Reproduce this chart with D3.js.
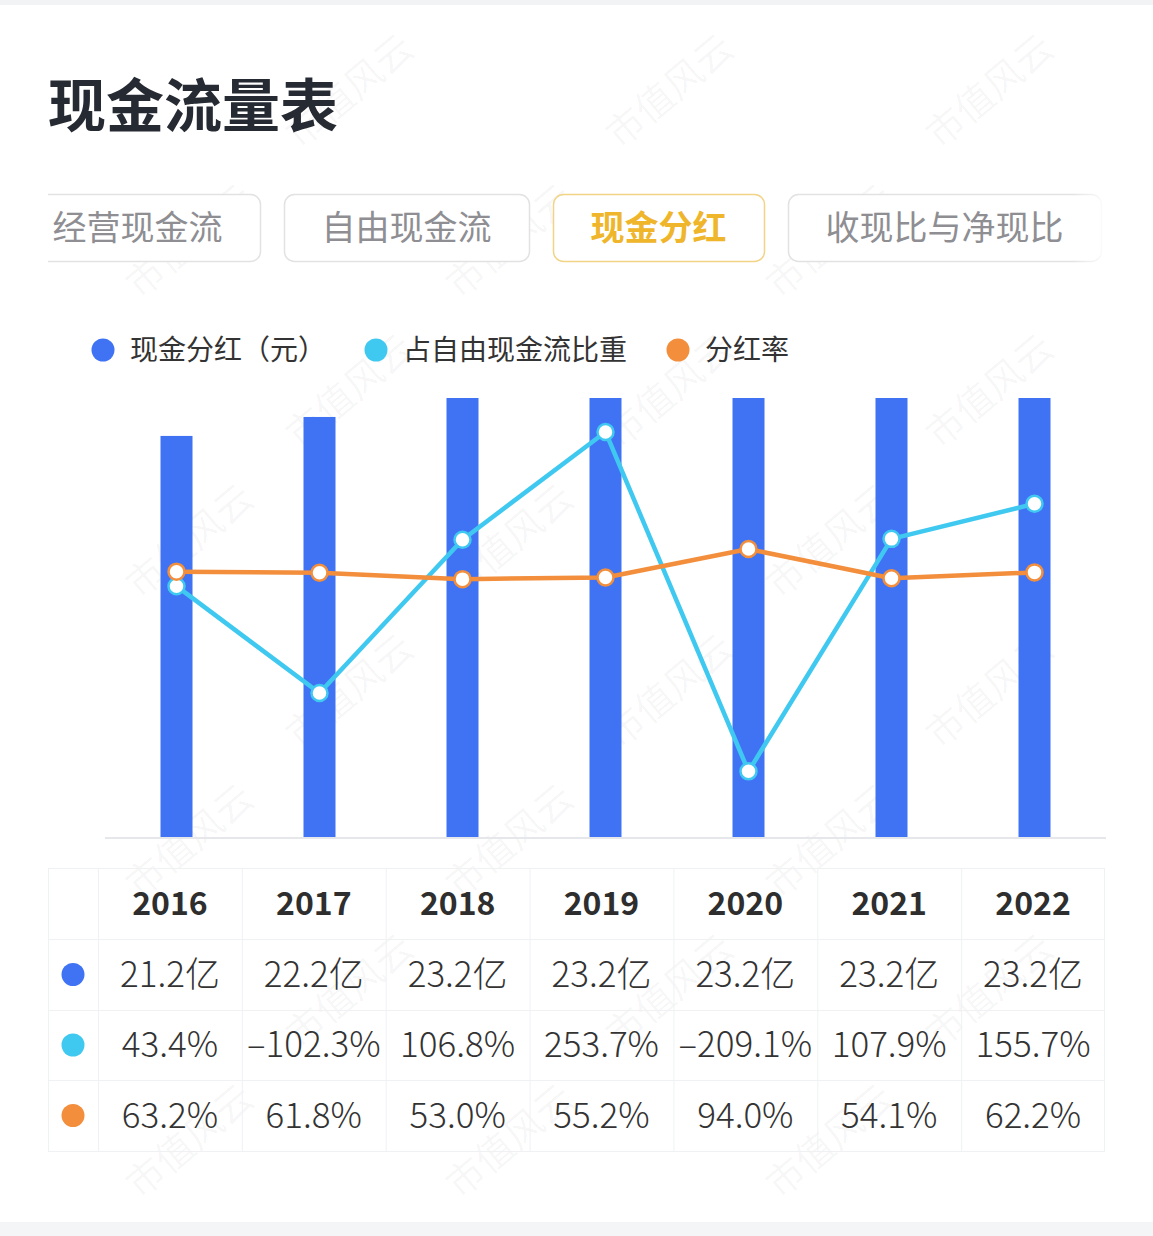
<!DOCTYPE html>
<html>
<head>
<meta charset="utf-8">
<script src="https://cdn.jsdelivr.net/npm/d3@7/dist/d3.min.js"></script>
<style>
  html, body { margin: 0; padding: 0; background: #fff; }
  svg { display: block; font-family: "Noto Sans CJK SC", "Noto Sans", sans-serif; }
</style>
</head>
<body>
<div id="chart"></div>
<script>
// chart data
var years = ["2016", "2017", "2018", "2019", "2020", "2021", "2022"];
var dividend = [21.2, 22.2, 23.2, 23.2, 23.2, 23.2, 23.2];          // 亿元
var fcfShare = [43.4, -102.3, 106.8, 253.7, -209.1, 107.9, 155.7];  // %
var payoutRate = [63.2, 61.8, 53.0, 55.2, 94.0, 54.1, 62.2];        // %
var tabs = ["经营现金流", "自由现金流", "现金分红", "收现比与净现比"];
var activeTab = "现金分红";
var seriesNames = ["现金分红（元）", "占自由现金流比重", "分红率"];
var rateTicks = [-300, 300];

var W = 1153, H = 1236;
var colors = ["#3f73f4", "#40c9f0", "#f28e3c"];

var svg = d3.select("#chart").append("svg")
  .attr("width", W)
  .attr("height", H);

// background strips
svg.append("rect").attr("x", 0).attr("y", 0).attr("width", W).attr("height", 5).attr("fill", "#f2f3f5");
svg.append("rect").attr("x", 0).attr("y", 1222).attr("width", W).attr("height", 14).attr("fill", "#f4f5f7");

// watermark, only the copies that fit inside the page
var wm = svg.append("g").attr("fill", "#000").attr("fill-opacity", 0.04)
  .attr("font-size", 38);
for (var r = 0; r < 9; r++) {
  for (var c = 0; c < 5; c++) {
    var wx = c * 320 + (r % 2 ? 160 : 0) - 20;
    var wy = r * 150 + 150;
    var t = wm.append("text")
      .attr("transform", "translate(" + wx + "," + wy + ") rotate(-40)")
      .text("市值风云");
    var b = t.node().getBoundingClientRect();
    if (b.left < 2 || b.top < 8 || b.right > W - 2 || b.bottom > 1218) t.remove();
  }
}

// title
svg.append("text")
  .attr("x", 48).attr("y", 127)
  .attr("font-size", 58).attr("font-weight", 700)
  .attr("fill", "#262a33")
  .text("现金流量表");

// tabs (scroll strip, clipped, right end fades out)
var defs = svg.append("defs");
defs.append("clipPath").attr("id", "tabclip")
  .append("rect").attr("x", 48).attr("y", 180).attr("width", 1057).attr("height", 100);
var fade = defs.append("linearGradient").attr("id", "tabfade");
fade.append("stop").attr("offset", "0%").attr("stop-color", "#fff").attr("stop-opacity", 0);
fade.append("stop").attr("offset", "100%").attr("stop-color", "#fff").attr("stop-opacity", 1);

var tabG = svg.append("g").attr("clip-path", "url(#tabclip)");
var tabX = 15;
tabs.forEach(function(t) {
  var w = t.length * 34 + 75;
  var on = t === activeTab;
  tabG.append("rect")
    .attr("x", tabX + 0.5).attr("y", 194.5)
    .attr("width", w).attr("height", 67)
    .attr("rx", 10)
    .attr("fill", "#fff")
    .attr("stroke", on ? "#f1d486" : "#e2e2e2")
    .attr("stroke-width", 1.5);
  tabG.append("text")
    .attr("x", tabX + w / 2).attr("y", 240)
    .attr("text-anchor", "middle")
    .attr("font-size", 34)
    .attr("font-weight", on ? 600 : 400)
    .attr("fill", on ? "#efb52b" : "#8e8e93")
    .text(t);
  tabX += w + 24;
});
svg.append("rect")
  .attr("x", 1072).attr("y", 190).attr("width", 36).attr("height", 76)
  .attr("fill", "url(#tabfade)");

// legend
var legendX = [103, 376, 678];
seriesNames.forEach(function(name, i) {
  svg.append("circle")
    .attr("cx", legendX[i]).attr("cy", 350).attr("r", 11.5)
    .attr("fill", colors[i]);
  svg.append("text")
    .attr("x", legendX[i] + 27).attr("y", 360)
    .attr("font-size", 28)
    .attr("fill", "#333")
    .text(name);
});

// scales
var x = d3.scalePoint().domain(years).range([105, 1106]).padding(0.5);
var yBar = d3.scaleLinear().domain([0, d3.max(dividend)]).range([838, 398]);
var yRate = d3.scaleLinear().domain(rateTicks).range([838, 398]);
var barW = 32;

// bars
svg.append("g").selectAll("rect")
  .data(dividend)
  .enter().append("rect")
    .attr("x", (d, i) => x(years[i]) - barW / 2)
    .attr("y", d => yBar(d))
    .attr("width", barW)
    .attr("height", d => yBar(0) - yBar(d))
    .attr("fill", colors[0]);

// baseline
svg.append("g")
  .attr("transform", "translate(0,838)")
  .call(d3.axisBottom(x).tickSize(0).tickFormat(""))
  .call(g => g.select(".domain").attr("stroke", "#e6e7ea").attr("stroke-width", 2)
    .attr("d", "M105,0H1106"));

// lines
var line = d3.line()
  .x((d, i) => x(years[i]))
  .y(d => yRate(d));

[[fcfShare, colors[1]], [payoutRate, colors[2]]].forEach(function(s) {
  svg.append("path")
    .datum(s[0])
    .attr("d", line)
    .attr("fill", "none")
    .attr("stroke", s[1])
    .attr("stroke-width", 4.5)
    .attr("stroke-linejoin", "round");
  svg.append("g").selectAll("circle")
    .data(s[0])
    .enter().append("circle")
      .attr("cx", (d, i) => x(years[i]))
      .attr("cy", d => yRate(d))
      .attr("r", 8)
      .attr("fill", "#fff")
      .attr("stroke", s[1])
      .attr("stroke-width", 2.5);
});

// table
var tx = d3.scaleBand().domain(years).range([98, 1105]);
var rowY = [868, 939, 1010, 1080, 1151];
var table = svg.append("g");
var lineColor = "#f0f1f3";

table.append("rect")
  .attr("x", 48.5).attr("y", rowY[0] + 0.5)
  .attr("width", 1056).attr("height", rowY[4] - rowY[0])
  .attr("fill", "none").attr("stroke", lineColor);

rowY.slice(1, 4).forEach(function(yy) {
  table.append("line")
    .attr("x1", 48).attr("x2", 1105)
    .attr("y1", yy + 0.5).attr("y2", yy + 0.5)
    .attr("stroke", lineColor);
});
[98].concat(years.slice(1).map(y => tx(y))).forEach(function(xx) {
  table.append("line")
    .attr("x1", xx + 0.5).attr("x2", xx + 0.5)
    .attr("y1", rowY[0]).attr("y2", rowY[4])
    .attr("stroke", lineColor);
});

var fmtPct = function(v) { return (v < 0 ? "–" + Math.abs(v).toFixed(1) : v.toFixed(1)) + "%"; };
var rows = [
  dividend.map(v => v.toFixed(1) + "亿"),
  fcfShare.map(fmtPct),
  payoutRate.map(fmtPct)
];

table.selectAll(".head")
  .data(years)
  .enter().append("text")
    .attr("class", "head")
    .attr("x", d => tx(d) + tx.bandwidth() / 2)
    .attr("y", (rowY[0] + rowY[1]) / 2 + 11)
    .attr("text-anchor", "middle")
    .attr("font-size", 32).attr("font-weight", 600)
    .attr("fill", "#2e2e2e")
    .text(d => d);

rows.forEach(function(vals, r) {
  var cy = (rowY[r + 1] + rowY[r + 2]) / 2;
  table.append("circle")
    .attr("cx", 73).attr("cy", cy).attr("r", 11.5)
    .attr("fill", colors[r]);
  table.selectAll(".row" + r)
    .data(vals)
    .enter().append("text")
      .attr("x", (d, i) => tx(years[i]) + tx.bandwidth() / 2)
      .attr("y", cy + 12)
      .attr("text-anchor", "middle")
      .attr("font-size", 35)
      .attr("font-weight", 300)
      .attr("fill", "#333")
      .text(d => d);
});
</script>
</body>
</html>
